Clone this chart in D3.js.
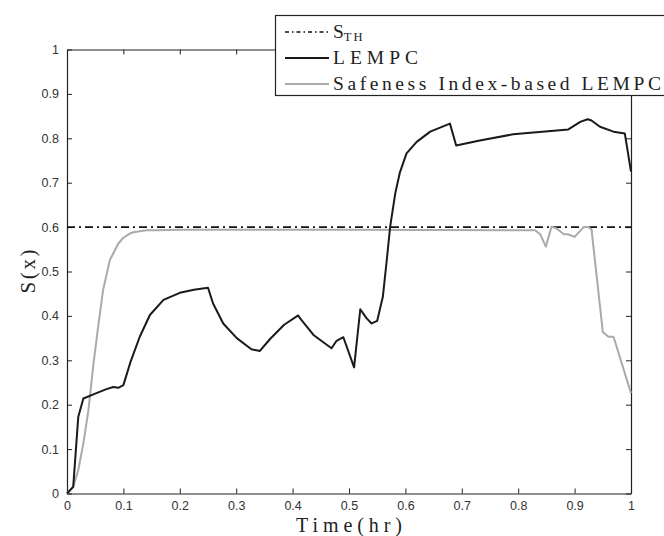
<!DOCTYPE html>
<html>
<head>
<meta charset="utf-8">
<script src="https://cdn.jsdelivr.net/npm/d3@7"></script>
<style>
  body { margin: 0; background: #fff; }
  svg { display: block; }
</style>
</head>
<body>
<svg width="664" height="536"></svg>
<script>
// threshold
const sTH = 0.6;

// LEMPC (black)
const timeLEMPC = [0,0.011,0.02,0.029,0.05,0.07,0.082,0.091,0.1,0.112,0.129,0.147,0.171,0.2,0.225,0.25,0.259,0.277,0.301,0.327,0.342,0.36,0.385,0.41,0.413,0.437,0.469,0.478,0.49,0.509,0.52,0.531,0.54,0.55,0.56,0.567,0.573,0.582,0.59,0.602,0.62,0.644,0.679,0.69,0.732,0.791,0.889,0.91,0.923,0.93,0.945,0.969,0.989,1];
const sLEMPC = [0,0.015,0.173,0.214,0.225,0.235,0.24,0.238,0.244,0.294,0.353,0.402,0.436,0.452,0.459,0.4635,0.428,0.383,0.35,0.325,0.321,0.348,0.38,0.401,0.395,0.357,0.327,0.344,0.352,0.284,0.415,0.395,0.383,0.389,0.443,0.526,0.601,0.676,0.722,0.766,0.792,0.815,0.833,0.784,0.795,0.809,0.82,0.837,0.843,0.84,0.826,0.815,0.811,0.725];

// Safeness Index-based LEMPC (grey)
const timeSafe = [0,0.011,0.02,0.029,0.038,0.047,0.056,0.064,0.076,0.091,0.1,0.112,0.12,0.141,0.16,0.2,0.5,0.83,0.839,0.849,0.859,0.868,0.881,0.888,0.9,0.916,0.924,0.93,0.95,0.96,0.969,1];
const sSafe = [0,0.015,0.053,0.113,0.188,0.293,0.383,0.458,0.526,0.563,0.576,0.586,0.589,0.593,0.593,0.594,0.594,0.593,0.584,0.556,0.601,0.597,0.584,0.584,0.578,0.6,0.6,0.595,0.364,0.353,0.353,0.226];

const xTicks = [0,0.1,0.2,0.3,0.4,0.5,0.6,0.7,0.8,0.9,1];
const yTicks = [0,0.1,0.2,0.3,0.4,0.5,0.6,0.7,0.8,0.9,1];

const svg = d3.select('svg');
const mLeft = 67, mRight = 631, mTop = 49.5, mBottom = 493.5;

const x = d3.scaleLinear().domain([0,1]).range([mLeft,mRight]);
const y = d3.scaleLinear().domain([0,1]).range([mBottom,mTop]);

const frame = '#222';

// axes, MATLAB style: ticks inward on all four sides
const fmt = d => d === 0 || d === 1 ? String(d) : d.toFixed(1);

svg.append('g').attr('transform',`translate(0,${mBottom})`)
   .call(d3.axisBottom(x).tickValues(xTicks).tickFormat(fmt).tickSizeInner(-5).tickSizeOuter(0).tickPadding(8));
svg.append('g').attr('transform',`translate(${mLeft},0)`)
   .call(d3.axisLeft(y).tickValues(yTicks).tickFormat(fmt).tickSizeInner(-5).tickSizeOuter(0).tickPadding(8));
svg.append('g').attr('transform',`translate(0,${mTop})`)
   .call(d3.axisTop(x).tickValues(xTicks).tickFormat('').tickSizeInner(-5).tickSizeOuter(0));
svg.append('g').attr('transform',`translate(${mRight},0)`)
   .call(d3.axisRight(y).tickValues(yTicks).tickFormat('').tickSizeInner(-5).tickSizeOuter(0));

svg.selectAll('.domain').attr('stroke',frame).attr('stroke-width',1.2);
svg.selectAll('.tick line').attr('stroke',frame);
svg.selectAll('.tick text')
   .attr('font-family','"Liberation Sans", Arial, sans-serif')
   .attr('font-size',12.5).attr('fill','#333');

// lines
const line = d3.line().x(d => x(d[0])).y(d => y(d[1]));

svg.append('path')
   .datum([[0,sTH],[1,sTH]])
   .attr('d',line).attr('fill','none')
   .attr('stroke','#111').attr('stroke-width',1.8)
   .attr('stroke-dasharray','8,4,2,4');

svg.append('path')
   .datum(timeSafe.map((t,i) => [t,sSafe[i]]))
   .attr('d',line).attr('fill','none')
   .attr('stroke','#aaaaaa').attr('stroke-width',2)
   .attr('stroke-linejoin','round');

svg.append('path')
   .datum(timeLEMPC.map((t,i) => [t,sLEMPC[i]]))
   .attr('d',line).attr('fill','none')
   .attr('stroke','#1a1a1a').attr('stroke-width',2)
   .attr('stroke-linejoin','round');

// axis labels
const serif = '"Liberation Serif", "DejaVu Serif", serif';
svg.append('text')
   .attr('x',(mLeft+mRight)/2).attr('y',532)
   .attr('text-anchor','middle')
   .attr('font-family',serif).attr('font-size',20)
   .attr('fill','#222')
   .attr('textLength',106).attr('lengthAdjust','spacing')
   .text('Time(hr)');

svg.append('text')
   .attr('transform',`translate(35,${(mTop+mBottom)/2}) rotate(-90)`)
   .attr('text-anchor','middle')
   .attr('font-family',serif).attr('font-size',21)
   .attr('fill','#222')
   .attr('textLength',44).attr('lengthAdjust','spacing')
   .text('S(x)');

// legend
const legend = svg.append('g');
legend.append('rect')
   .attr('x',275.5).attr('y',15.5).attr('width',400).attr('height',80)
   .attr('fill','#fff').attr('stroke',frame).attr('stroke-width',1.2);

const rows = [
  {label:'S', sub:'TH', color:'#111', dash:'4,3,1.5,3', w:1.6, tl:null},
  {label:'LEMPC', color:'#1a1a1a', dash:null, w:2, tl:85},
  {label:'Safeness Index-based LEMPC', color:'#aaaaaa', dash:null, w:2, tl:328}
];
const rowY = [32, 58, 84];

rows.forEach((r,i) => {
  const yy = rowY[i];
  legend.append('line')
     .attr('x1',285).attr('x2',329).attr('y1',yy).attr('y2',yy)
     .attr('stroke',r.color).attr('stroke-width',r.w)
     .attr('stroke-dasharray',r.dash);
  const t = legend.append('text')
     .attr('x',333).attr('y',yy+6)
     .attr('font-family',serif).attr('font-size',19.5)
     .attr('fill','#222');
  if (r.sub) {
    t.append('tspan').text(r.label);
    t.append('tspan').attr('dy',3).attr('font-size',12.5)
     .attr('letter-spacing',2).text(r.sub);
  } else {
    t.attr('textLength',r.tl).attr('lengthAdjust','spacing').text(r.label);
  }
});
</script>
</body>
</html>
